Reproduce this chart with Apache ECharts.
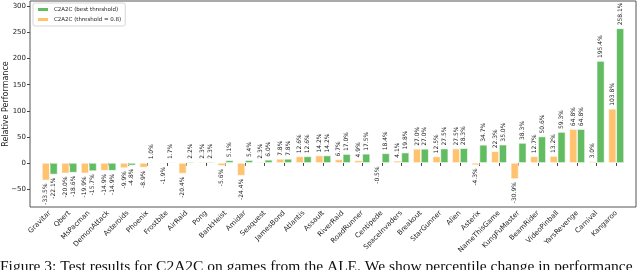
<!DOCTYPE html>
<html>
<head>
<meta charset="utf-8">
<script src="https://cdn.jsdelivr.net/npm/echarts@6/dist/echarts.min.js"></script>
<style>
html,body{margin:0;padding:0;background:#fff;}
#c{width:640px;height:270px;}
</style>
</head>
<body>
<div id="c"></div>
<script>
const categories = ["Gravitar","Qbert","MsPacman","DemonAttack","Asteroids","Phoenix","Frostbite","AirRaid","Pong","BankHeist","Amidar","Seaquest","JamesBond","Atlantis","Assault","RiverRaid","RoadRunner","Centipede","SpaceInvaders","Breakout","StarGunner","Alien","Asterix","NameThisGame","KungFuMaster","BeamRider","VideoPinball","YarsRevenge","Carnival","Kangaroo"];
const thresh08 = [-33.5,-20.0,-19.9,-14.9,-9.9,-8.9,-1.9,-20.4,2.3,-5.6,-24.4,2.3,7.8,12.6,14.2,6.7,4.9,-0.5,4.1,27.0,12.5,27.5,-4.3,22.3,-30.9,12.7,13.2,64.8,3.0,103.8];
const bestThresh = [-22.1,-18.6,-15.7,-14.9,-4.8,1.0,1.7,2.2,2.3,5.1,5.4,6.0,7.8,12.6,14.2,17.0,17.5,18.4,19.8,27.0,27.5,28.3,34.7,35.0,38.3,50.6,59.3,64.8,195.4,258.1];
const yTicks = [-50, 0, 50, 100, 150, 200, 250, 300];
const seriesNames = ["C2A2C (best threshold)", "C2A2C (threshold = 0.8)"];
const caption = "Figure 3: Test results for C2A2C on games from the ALE. We show percentile change in performance";

const GREEN = '#62bd62';
const ORANGE = '#ffc26f';
const FONT = 'DejaVu Sans';

function items(arr) {
  return arr.map(v => ({
    value: v,
    label: v >= 0
      ? {position: 'top', align: 'left', verticalAlign: 'middle', rotate: 90, distance: 3}
      : {position: 'bottom', align: 'right', verticalAlign: 'middle', rotate: 90, distance: 3}
  }));
}
const labelBase = {
  show: true,
  fontSize: 6,
  fontFamily: FONT,
  color: '#222',
  formatter: p => p.value.toFixed(1) + '%'
};

const chart = echarts.init(document.getElementById('c'), null, {renderer: 'canvas'});
chart.setOption({
  animation: false,
  backgroundColor: '#fff',
  grid: {left: 40, right: 14, top: 1, bottom: 63, containLabel: false, outerBoundsMode: 'none'},
  legend: {
    left: 33, top: 3, orient: 'vertical',
    itemWidth: 12, itemHeight: 5, itemGap: 3,
    padding: [3, 4, 3, 3],
    borderColor: '#ccc', borderWidth: 0.8, borderRadius: 2,
    backgroundColor: 'rgba(255,255,255,0.8)',
    textStyle: {fontSize: 5.5, fontFamily: FONT, color: '#222'},
    data: [
      {name: seriesNames[0], icon: 'rect'},
      {name: seriesNames[1], icon: 'rect'}
    ]
  },
  xAxis: {
    type: 'category',
    data: categories,
    axisLine: {show: false},
    axisTick: {show: true, alignWithLabel: true, length: 3, lineStyle: {color: '#444'}},
    axisLabel: {rotate: 45, fontSize: 7, fontFamily: FONT, color: '#222', interval: 0, margin: 5}
  },
  yAxis: {
    type: 'value',
    min: -84.5, max: 310.5,
    offset: 10,
    splitLine: {show: false},
    axisLine: {show: false},
    axisTick: {show: true, length: 3, lineStyle: {color: '#444'}, customValues: yTicks},
    axisLabel: {fontSize: 7, fontFamily: FONT, color: '#222', margin: 4, hideOverlap: false,
      showMaxLabel: true, showMinLabel: true,
      customValues: yTicks,
      formatter: v => (v < 0 ? '\u2212' + Math.abs(v) : String(v))},
    name: 'Relative Performance',
    nameLocation: 'middle',
    nameGap: 20,
    nameMoveOverlap: false,
    nameTextStyle: {fontSize: 8, fontFamily: FONT, color: '#222'}
  },
  series: [
    {
      name: seriesNames[1], type: 'bar', data: items(thresh08),
      itemStyle: {color: ORANGE, borderColor: '#fff', borderWidth: 0.6},
      label: labelBase, barGap: '0%', barCategoryGap: '20%', z: 2
    },
    {
      name: seriesNames[0], type: 'bar', data: items(bestThresh),
      itemStyle: {color: GREEN, borderColor: '#fff', borderWidth: 0.6},
      label: labelBase, barGap: '0%', barCategoryGap: '20%', z: 2
    }
  ],
  graphic: [
    {type: 'rect', shape: {x: 30, y: 1, width: 606, height: 206}, style: {fill: 'none', stroke: '#555', lineWidth: 1}, z: 10, silent: true},
    {type: 'text', left: 0, top: 259, style: {text: caption, fontSize: 15.5, fontFamily: 'Liberation Serif', fill: '#111'}, z: 10}
  ]
});
</script>
</body>
</html>
